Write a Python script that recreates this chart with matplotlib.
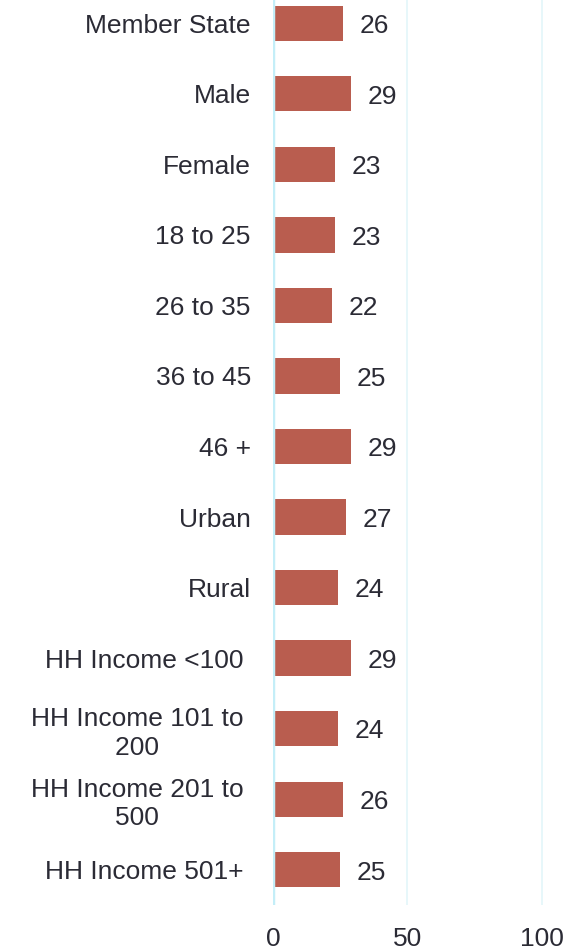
import numpy as np
import matplotlib.pyplot as plt

plt.rcParams['font.family'] = ['Liberation Sans', 'DejaVu Sans']

categories = ['Member State', 'Male', 'Female', '18 to 25', '26 to 35', '36 to 45',
              '46 +', 'Urban', 'Rural', 'HH Income <100 ', 'HH Income 101 to \n200 ',
              'HH Income 201 to \n500 ', 'HH Income 501+ ']
values = [26, 29, 23, 23, 22, 25, 29, 27, 24, 29, 24, 26, 25]
xticks = [0, 50, 100]

text_color = '#2B2B35'
bar_color = '#B95D4F'

fig = plt.figure(figsize=(5.74, 9.5), dpi=100)
ax = fig.add_axes([273 / 574, 45 / 950, 301 / 574, 905 / 950])

y = np.arange(len(categories))
bars = ax.barh(y, values, height=0.5, color=bar_color, zorder=3)

for b, v in zip(bars, values):
    ax.annotate(str(v), (b.get_width(), b.get_y() + b.get_height() / 2),
                xytext=(12, -2), textcoords='offset points', ha='left', va='center',
                fontsize=19, color=text_color)

ax.set_xlim(0, 112)
ax.set_ylim(12.5, -0.33)
ax.set_yticks(y)
ax.set_yticklabels(categories, fontsize=19, color=text_color,
                   multialignment='center', linespacing=1.25)
ax.set_xticks(xticks)
ax.set_xticklabels([str(t) for t in xticks], fontsize=19, color=text_color)
ax.tick_params(axis='y', length=0, pad=16)
ax.tick_params(axis='x', length=0, pad=16)

for s in ax.spines.values():
    s.set_visible(False)

ax.grid(axis='x', color='#E3F6FA', linewidth=1.2, zorder=0)
ax.axvline(0, color='#C4EEF8', linewidth=2.5, zorder=4)

fig.savefig('out.png', dpi=100)
